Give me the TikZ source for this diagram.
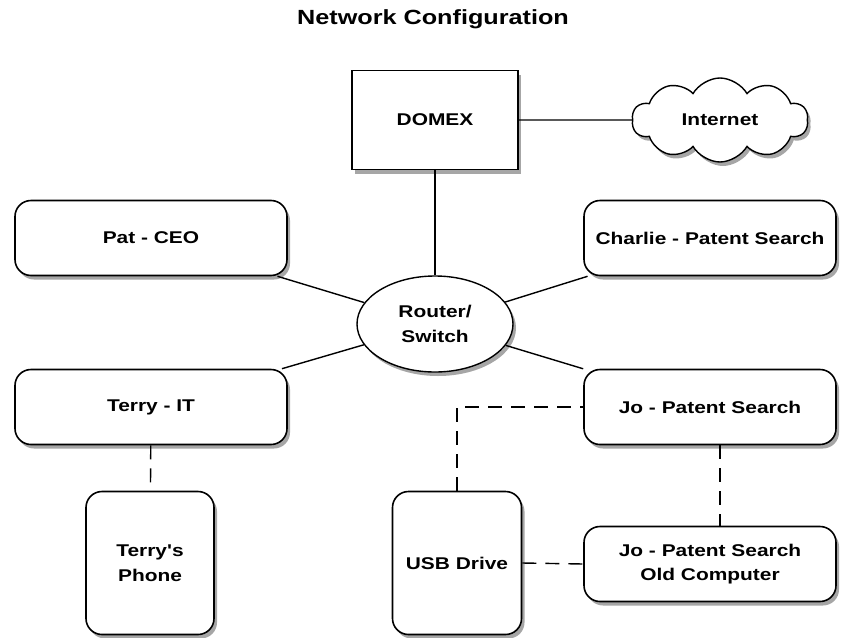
\documentclass[tikz,border=0pt]{standalone}
\usepackage{fontspec}
\setmainfont{Liberation Sans}
\newfontfamily\widesans[FakeStretch=1.23]{Liberation Sans}
\usetikzlibrary{shapes.geometric,shapes.symbols,shadows}
\begin{document}
\begin{tikzpicture}[x=1pt,y=-1pt,
  every node/.style={font=\widesans\bfseries\fontsize{17}{24.5}\selectfont, align=center},
  shad/.style={drop shadow={shadow xshift=3pt, shadow yshift=-4pt, fill=black, opacity=0.35}},
  rbox/.style={draw=black, line width=1.6pt, fill=white, rounded corners=16pt, shad, inner sep=0pt},
  sbox/.style={draw=black, line width=1.8pt, fill=white, shad, inner sep=0pt},
  link/.style={draw=black, line width=1.4pt},
  dlink/.style={draw=black, line width=1.4pt, dash pattern=on 14pt off 9pt}
]
\useasboundingbox (0,0) rectangle (850,637);
\node[font=\widesans\bfseries\fontsize{20.5}{23}\selectfont] (title) at (433,19) {Network Configuration};
\node[sbox, minimum width=166pt, minimum height=99pt] (domex) at (435,120) {DOMEX};
\node[cloud, cloud puffs=10, cloud puff arc=120, aspect=2, draw=black, line width=1.4pt, fill=white, shad, minimum width=176pt, minimum height=84pt, inner sep=0pt] (inet) at (720,120) {Internet};
\node[ellipse, draw=black, line width=1.4pt, fill=white, shad, minimum width=156pt, minimum height=96pt, inner sep=0pt] (router) at (435,324) {Router/\\Switch};
\node[rbox, minimum width=272pt, minimum height=75pt] (pat) at (151,238) {Pat - CEO};
\node[rbox, minimum width=252pt, minimum height=75pt] (charlie) at (710,238) {Charlie - Patent Search};
\node[rbox, minimum width=272pt, minimum height=75pt] (terry) at (151,407) {Terry - IT};
\node[rbox, minimum width=252pt, minimum height=75pt] (jo) at (710,407) {Jo - Patent Search};
\node[rbox, minimum width=252pt, minimum height=75pt] (joold) at (710,564) {Jo - Patent Search\\Old Computer};
\node[rbox, minimum width=128pt, minimum height=143pt] (phone) at (150,563) {Terry\symbol{39}s\\Phone};
\node[rbox, minimum width=129pt, minimum height=143pt] (usb) at (457,563) {USB Drive};
\coordinate (corner) at (457,407);
\draw[link] (domex) -- (inet);
\draw[link] (domex) -- (router);
\draw[link] (router) -- (pat);
\draw[link] (router) -- (charlie);
\draw[link] (router) -- (terry);
\draw[link] (router) -- (jo);
\draw[dlink] (terry) -- (phone);
\draw[dlink] (jo.south -| 720,0) -- (joold.north -| 720,0);
\draw[dlink] (usb.north) -- (corner) -- (jo.west);
\draw[dlink] (usb.east) -- (joold.west);
\end{tikzpicture}
\end{document}
